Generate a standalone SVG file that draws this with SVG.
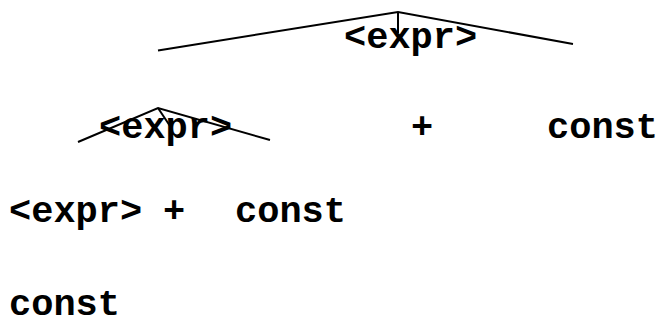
<svg xmlns="http://www.w3.org/2000/svg" width="661" height="321" viewBox="0 0 661 321">
<style>
.t{font-family:"Liberation Mono","Courier New",monospace;font-weight:bold;font-size:37px;fill:#000}
.e{stroke:#000;stroke-width:2;fill:none}
.thin{stroke:#000;stroke-width:1.2;fill:none}
</style>
<rect width="661" height="321" fill="#fff"/>
<g id="connectors">
<polyline class="e" points="158,50.5 398,12 573,44"/>
<line class="e" x1="398" y1="12" x2="398" y2="33"/>
<polyline class="e" points="78,142 158,108 270,140"/>
<line class="e" x1="158" y1="108" x2="170" y2="126"/>
<line class="thin" x1="80" y1="205" x2="80" y2="222"/>
</g>
<g id="root"><text class="t" x="344" y="48">&lt;expr&gt;</text></g>
<g id="expr2"><text class="t" x="99" y="138">&lt;expr&gt;</text></g>
<g id="plus2"><text class="t" x="411" y="138">+</text></g>
<g id="const2"><text class="t" x="547" y="138">const</text></g>
<g id="expr3"><text class="t" x="9" y="222">&lt;expr&gt;</text></g>
<g id="plus3"><text class="t" x="163" y="222">+</text></g>
<g id="const3"><text class="t" x="235" y="222">const</text></g>
<g id="const4"><text class="t" x="9" y="315">const</text></g>
</svg>
